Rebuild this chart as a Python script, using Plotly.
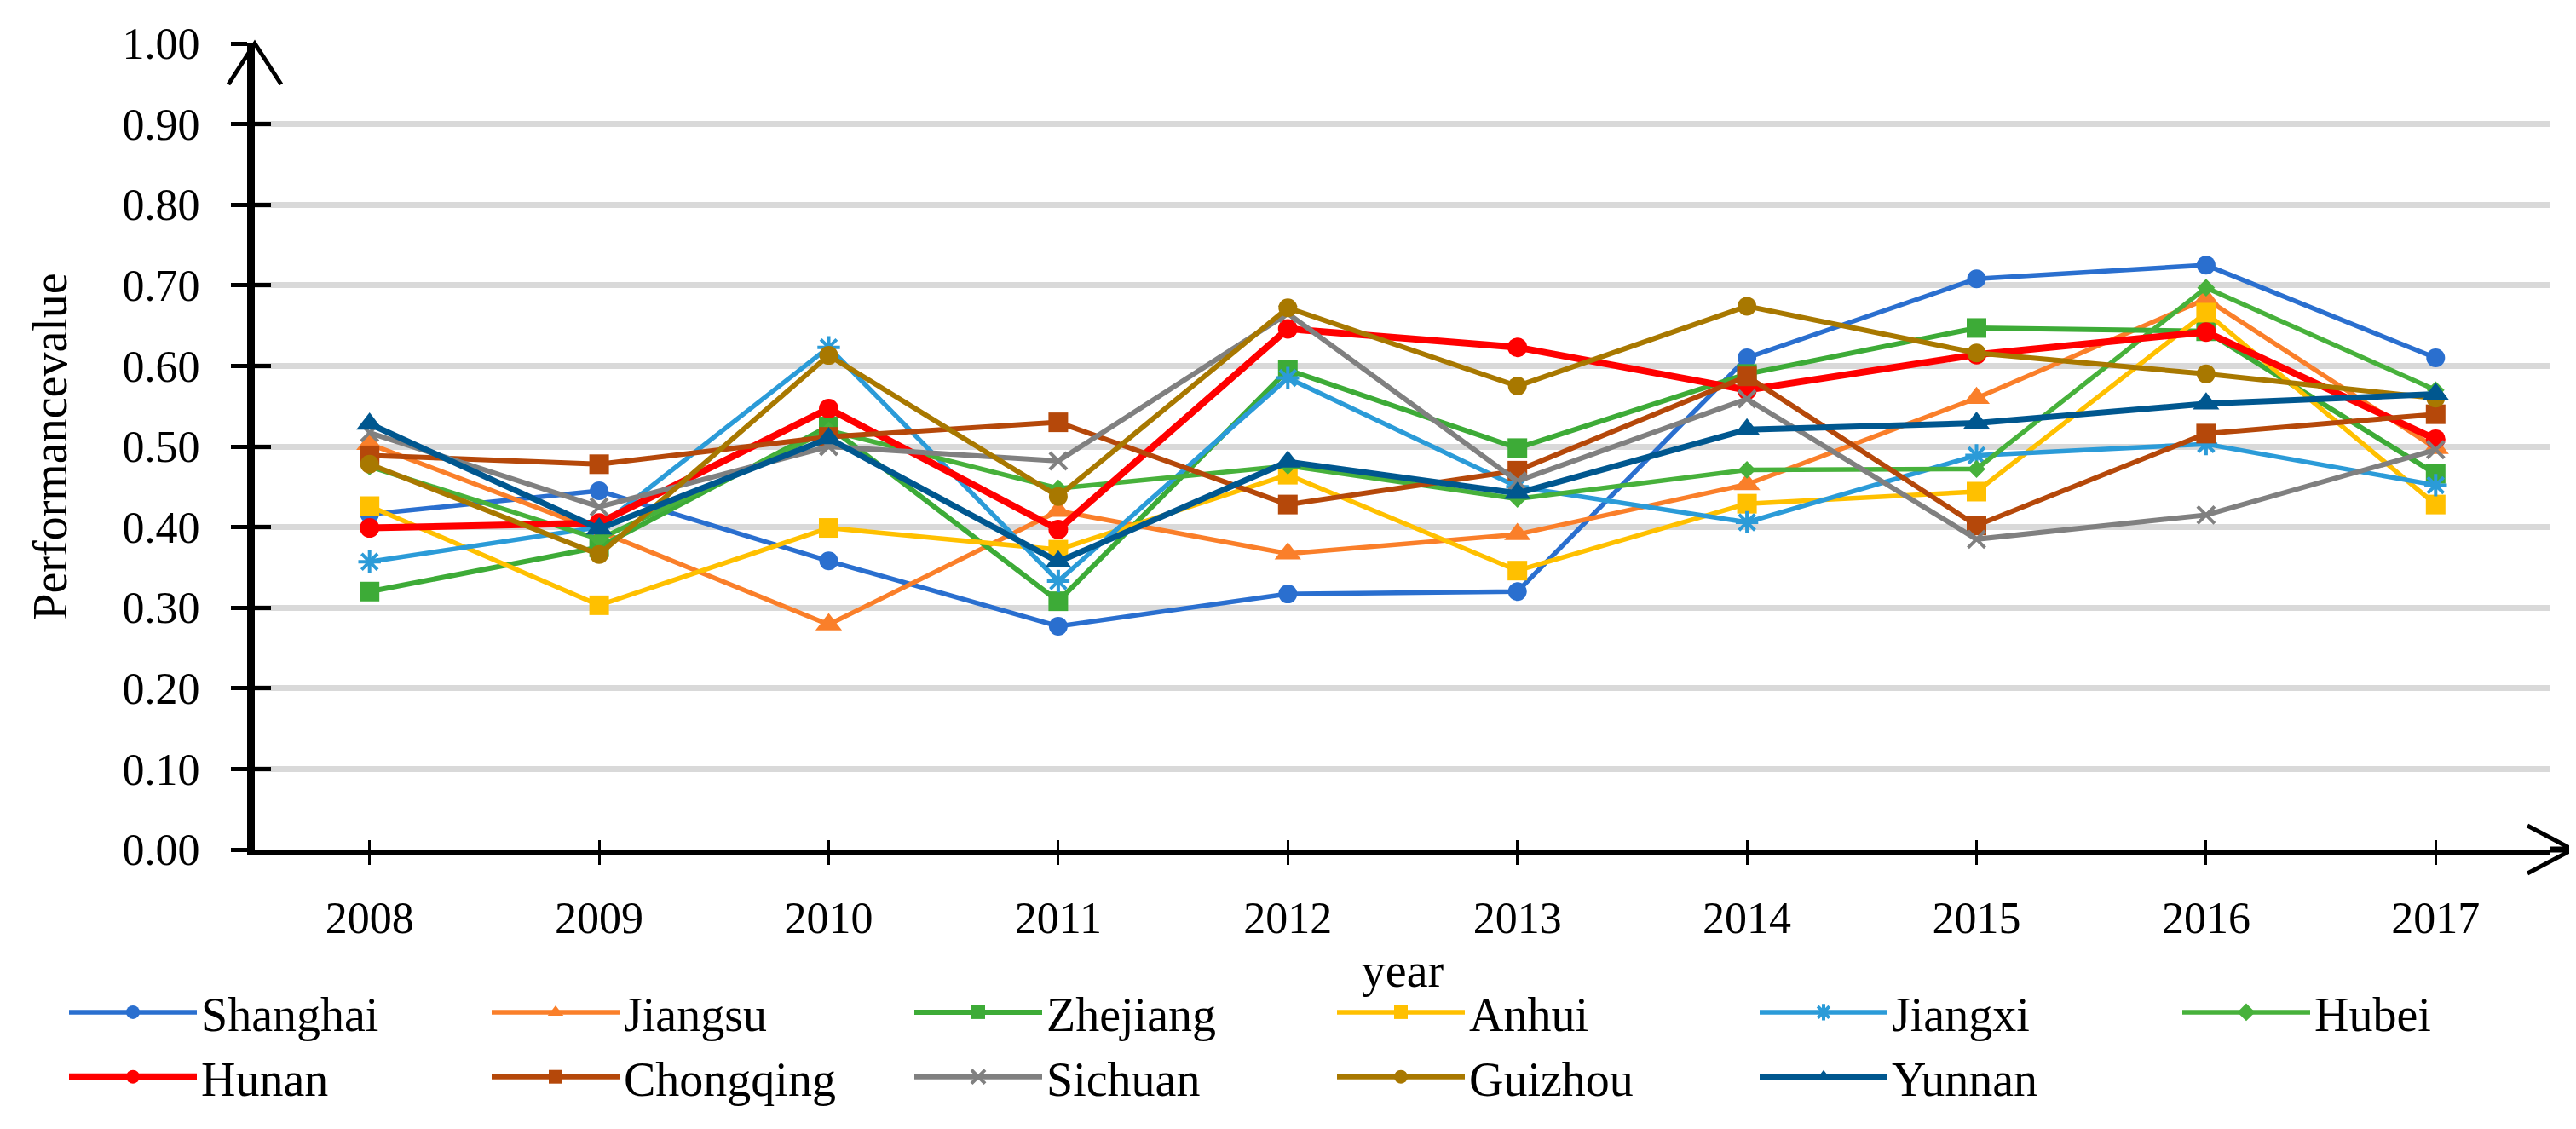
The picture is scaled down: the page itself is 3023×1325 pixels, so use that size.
import plotly.graph_objects as go

years = [2008, 2009, 2010, 2011, 2012, 2013, 2014, 2015, 2016, 2017]

provinces = ["Shanghai", "Jiangsu", "Zhejiang", "Anhui", "Jiangxi", "Hubei",
             "Hunan", "Chongqing", "Sichuan", "Guizhou", "Yunnan"]

shanghai  = [0.416, 0.445, 0.358, 0.277, 0.317, 0.320, 0.610, 0.708, 0.725, 0.610]
jiangsu   = [0.503, 0.395, 0.279, 0.420, 0.367, 0.391, 0.453, 0.560, 0.683, 0.498]
zhejiang  = [0.320, 0.375, 0.525, 0.308, 0.595, 0.498, 0.590, 0.647, 0.643, 0.466]
anhui     = [0.426, 0.303, 0.399, 0.372, 0.465, 0.346, 0.429, 0.444, 0.666, 0.428]
jiangxi   = [0.357, 0.400, 0.623, 0.333, 0.585, 0.450, 0.406, 0.489, 0.503, 0.452]
hubei     = [0.475, 0.385, 0.520, 0.448, 0.476, 0.435, 0.471, 0.472, 0.697, 0.570]
hunan     = [0.399, 0.405, 0.547, 0.397, 0.646, 0.623, 0.570, 0.614, 0.642, 0.509]
chongqing = [0.489, 0.478, 0.512, 0.530, 0.428, 0.470, 0.587, 0.402, 0.516, 0.540]
sichuan   = [0.517, 0.425, 0.500, 0.482, 0.665, 0.457, 0.559, 0.385, 0.415, 0.496]
guizhou   = [0.478, 0.366, 0.613, 0.438, 0.672, 0.575, 0.674, 0.616, 0.590, 0.560]
yunnan    = [0.528, 0.398, 0.510, 0.357, 0.481, 0.442, 0.521, 0.529, 0.553, 0.565]

series = [shanghai, jiangsu, zhejiang, anhui, jiangxi, hubei,
          hunan, chongqing, sichuan, guizhou, yunnan]

colors = ["#2A6FCF", "#FA7F2A", "#3DAB37", "#FFC000", "#2B9BD8", "#47B13B",
          "#FF0000", "#B5480A", "#808080", "#A87800", "#00578F"]
symbols = ["circle", "triangle-up", "square", "square", "asterisk-open", "diamond",
           "circle", "square", "x-thin-open", "circle", "triangle-up"]
msizes = [22, 27, 23, 23, 22, 16, 23, 23, 20, 22, 27]
lwidths = [5.5, 5.5, 6, 5.5, 5.5, 5.5, 8, 6, 6, 6, 7]

y_ticks = [0.0, 0.1, 0.2, 0.3, 0.4, 0.5, 0.6, 0.7, 0.8, 0.9, 1.0]
grid_vals = [0.1, 0.2, 0.3, 0.4, 0.5, 0.6, 0.7, 0.8, 0.9]

FONT = "Liberation Serif"
W, H = 3023, 1325
L, R, T, B = 291, 38, 43, 336

pw = W - L - R
ph = H - T - B
def px(x):
    return (x - L) / pw
def py(y):
    return (H - B - y) / ph

fig = go.Figure()
for name, vals, c, s, ms, lw in zip(provinces, series, colors, symbols, msizes, lwidths):
    mk = dict(symbol=s, size=ms, color=c)
    if s.endswith("open"):
        mk["line"] = dict(color=c, width=4)
    else:
        mk["line"] = dict(width=0)
    fig.add_trace(go.Scatter(x=years, y=vals, name=name, mode="lines+markers",
                             line=dict(color=c, width=lw), marker=mk))

# empty trace for the overlay axes (inside half of the crossing ticks)
fig.add_trace(go.Scatter(x=[], y=[], xaxis="x2", yaxis="y2", showlegend=False,
                         hoverinfo="skip"))

xr = [years[0] - 0.5, years[-1] + 0.5]
fig.update_layout(
    width=W, height=H,
    margin=dict(l=L, r=R, t=T, b=B, autoexpand=False),
    paper_bgcolor="white", plot_bgcolor="white",
    font=dict(family=FONT, size=52, color="black"),
    showlegend=True,
    legend=dict(orientation="h", xref="paper", yref="paper",
                x=px(68), y=py(1137), xanchor="left", yanchor="top",
                entrywidth=331, entrywidthmode="pixels",
                font=dict(family=FONT, size=56, color="black"),
                itemwidth=150, tracegroupgap=0, bgcolor="rgba(0,0,0,0)"),
    xaxis=dict(range=xr, tickvals=years, ticktext=[str(y) for y in years],
               showgrid=False, zeroline=False,
               showline=True, linecolor="black", linewidth=7,
               ticks="outside", ticklen=11, tickwidth=3, tickcolor="black",
               tickfont=dict(family=FONT, size=52), ticklabelstandoff=18,
               title=dict(text="year", font=dict(family=FONT, size=56), standoff=16)),
    yaxis=dict(range=[0, 1.0], tickvals=y_ticks, tickformat=".2f",
               showgrid=False, zeroline=False,
               showline=True, linecolor="black", linewidth=9,
               ticks="outside", ticklen=19, tickwidth=5, tickcolor="black",
               tickfont=dict(family=FONT, size=52), ticklabelstandoff=26,
               minor=dict(tickvals=grid_vals, showgrid=True, gridcolor="#D9D9D9",
                          gridwidth=7, ticks=""),
               title=dict(text="Performancevalue", font=dict(family=FONT, size=56),
                          standoff=50)),
    xaxis2=dict(range=xr, tickvals=years, overlaying="x", anchor="y2", side="bottom",
                showticklabels=False, showgrid=False, zeroline=False, showline=False,
                ticks="inside", ticklen=11, tickwidth=3, tickcolor="black"),
    yaxis2=dict(range=[0, 1.0], tickvals=y_ticks, overlaying="y", anchor="x2", side="left",
                showticklabels=False, showgrid=False, zeroline=False, showline=False,
                ticks="inside", ticklen=19, tickwidth=5, tickcolor="black"),
)

# axis arrow heads and extension of the x axis line
fig.add_shape(type="line", xref="paper", yref="paper",
              x0=1.0, x1=px(3011), y0=0, y1=0, line=dict(color="black", width=7))
fig.add_shape(type="path", xref="paper", yref="paper",
              path=f"M {px(2958)} {py(961)} L {px(3011)} {py(989)} L {px(2958)} {py(1017)}",
              line=dict(color="black", width=5))
fig.add_shape(type="path", xref="paper", yref="paper",
              path=f"M {px(260)} {py(91)} L {px(291)} {py(43)} L {px(322)} {py(91)}",
              line=dict(color="black", width=5))

fig.write_html("out.html")
